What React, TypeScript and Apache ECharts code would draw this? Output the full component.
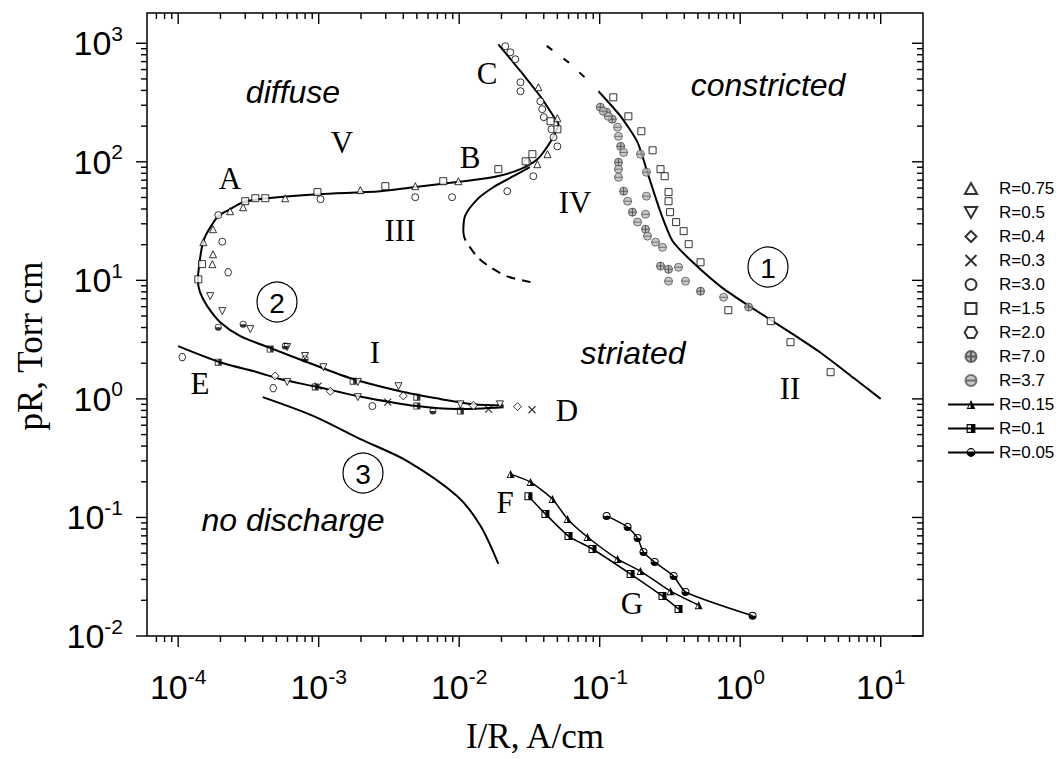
import React, { useEffect, useRef } from 'react';
import * as echarts from 'echarts';

// ---------- axis ranges & ticks ----------
const X_MIN = 6e-5;
const X_MAX = 20;
const Y_MIN = 0.01;
const Y_MAX = 1800;
const xMajorTicks = [1e-4, 1e-3, 1e-2, 1e-1, 1, 10];
const yMajorTicks = [1e-2, 1e-1, 1, 10, 100, 1000];
const minorMultipliers = [2, 3, 4, 5, 6, 7, 8, 9];
const xDecades = [1e-5, 1e-4, 1e-3, 1e-2, 1e-1, 1, 10];
const yDecades = [1e-2, 1e-1, 1, 10, 100, 1000];

// ---------- curves ----------
const mainCurve = [
  [0.019, 980], [0.0273, 581], [0.0378, 357], [0.0469, 242], [0.0509, 207], [0.0469, 164],
  [0.0425, 135], [0.036, 105], [0.0273, 86.7], [0.0187, 75.6], [0.0107, 68.6], [0.00472, 61],
  [0.00275, 56.5], [9.8e-4, 53.3], [4.3e-4, 49.3], [2.9e-4, 45.6], [2.34e-4, 39.8],
  [1.93e-4, 34.8], [1.75e-4, 29.8], [1.56e-4, 23.6], [1.48e-4, 19.4], [1.43e-4, 15.1],
  [1.39e-4, 11.5], [1.38e-4, 10.2], [1.43e-4, 7.95], [1.61e-4, 6.06], [1.99e-4, 4.44],
  [2.77e-4, 3.39], [4.75e-4, 2.63], [8.3e-4, 2.04], [1.76e-3, 1.47], [3.8e-3, 1.16],
  [7.3e-3, 1.0], [0.0126, 0.9], [0.0207, 0.88],
];
const lowerBranch = [
  [1e-4, 2.79], [1.99e-4, 2.04], [3.66e-4, 1.68], [5.3e-4, 1.47], [9.8e-4, 1.26],
  [1.88e-3, 1.06], [5.0e-3, 0.87], [9.7e-3, 0.82], [0.0207, 0.85],
];
const curveIII = [[0.0107, 25.5], [0.011, 34.8], [0.0135, 48.4], [0.0175, 61], [0.0243, 75.6], [0.0318, 90]];
const curveIIIdash = [[0.0107, 25.5], [0.011, 22.2], [0.0135, 15.7], [0.0167, 12.9], [0.022, 10.8], [0.0322, 9.66]];
const curveIVdash = [[0.042, 950], [0.06, 690], [0.079, 510]];
const curve1 = [
  [0.098, 394], [0.141, 242], [0.186, 146], [0.223, 75.6], [0.271, 37.6], [0.33, 21.5],
  [0.466, 14], [0.75, 8.6], [1.19, 5.95], [2.18, 3.75], [3.74, 2.45], [6.43, 1.5], [10, 1.0],
];
const curve3 = [
  [4.0e-4, 1.035], [9.2e-4, 0.716], [1.98e-3, 0.458], [4.27e-3, 0.299], [9.7e-3, 0.151],
  [0.0142, 0.0846], [0.019, 0.0405],
];

// ---------- line+symbol series ----------
const r015 = [
  [0.0232, 0.232], [0.0322, 0.199], [0.0461, 0.143], [0.059, 0.097], [0.0818, 0.0684],
  [0.134, 0.0446], [0.195, 0.0353], [0.319, 0.0239], [0.506, 0.0182],
];
const r01 = [
  [0.0311, 0.151], [0.0411, 0.107], [0.06, 0.0697], [0.0889, 0.0542], [0.166, 0.0333],
  [0.28, 0.0217], [0.364, 0.0169],
];
const r005 = [
  [0.112, 0.103], [0.158, 0.083], [0.186, 0.067], [0.205, 0.051], [0.246, 0.042],
  [0.336, 0.032], [0.408, 0.0235], [1.225, 0.0148],
];
const r01Extra = [[4.52e-4, 2.63], [1.76e-3, 1.41], [5.0e-3, 1.035], [5.0e-3, 0.87], [0.0102, 0.79], [1.93e-4, 2.04], [9.46e-4, 1.26]];
const r005Extra = [[1.93e-4, 4.03], [2.9e-4, 4.27], [5.78e-4, 2.79], [8.0e-4, 2.17], [6.5e-3, 0.79]];

// ---------- scatter series ----------
const r075 = [
  [1.77e-4, 27], [1.51e-4, 21], [2.34e-4, 38.3], [2.9e-4, 41.4], [5.78e-4, 49.3], [1.98e-3, 57.7],
  [4.87e-3, 62.3], [9.87e-3, 68.6], [0.0366, 426], [0.05, 233], [0.0425, 116], [0.036, 95.5],
  [1.77e-4, 16.6], [1.75e-4, 13.7],
];
const r05 = [
  [1.69e-4, 7.36], [2.06e-4, 5.5], [3.26e-4, 3.88], [5.97e-4, 2.74], [8.0e-4, 2.3], [1.08e-3, 1.85],
  [1.9e-3, 1.39], [3.7e-3, 1.28], [0.0195, 0.9], [5.97e-4, 1.39], [1.9e-3, 1.035], [0.0102, 0.9],
];
const r04 = [[4.9e-4, 1.56], [1.21e-3, 1.16], [4.0e-3, 1.06], [0.0126, 0.88], [0.026, 0.86]];
const r03 = [[9.9e-4, 1.28], [3.1e-3, 0.94], [0.0162, 0.82], [0.033, 0.81]];
const r30 = [
  [1.93e-4, 35.5], [2.06e-4, 21.2], [1.03e-3, 48.4], [4.87e-3, 50.3], [8.9e-3, 50.3], [0.022, 56.5],
  [0.0337, 75.6], [0.0213, 944], [0.0231, 839], [0.0251, 733], [0.0273, 469], [0.0273, 394],
  [0.0378, 324], [0.039, 278], [0.04, 238], [0.0454, 188], [0.0469, 161], [0.05, 135], [0.0306, 99],
  [2.41e-3, 0.87],
];
const r15 = [
  [3.0e-4, 46.5], [3.54e-4, 49.3], [4.17e-4, 49.3], [9.8e-4, 55.5], [2.98e-3, 62.3], [7.7e-3, 68.6],
  [0.019, 86.7], [0.0297, 101], [0.0332, 116], [0.05, 188], [0.0447, 220], [1.39e-4, 10.2],
  [1.48e-4, 13.7], [0.125, 350], [0.16, 242], [0.198, 181], [0.238, 125], [0.271, 86.7],
  [0.29, 75.6], [0.309, 55.5], [0.309, 46.5], [0.317, 37.6], [0.35, 31], [0.396, 26], [0.43, 20.2],
  [0.522, 14.2], [0.823, 5.6], [1.65, 4.53], [2.28, 3.01], [4.4, 1.68],
];
const r20 = [[1.07e-4, 2.25], [2.27e-4, 11.7], [4.75e-4, 1.23]];
const r70 = [
  [0.101, 289], [0.112, 262], [0.123, 229], [0.141, 135], [0.136, 99], [0.148, 56.5], [0.171, 37.6],
  [0.212, 27], [0.271, 13.2], [0.309, 12.4], [0.522, 8.1], [1.148, 5.95],
];
const r37 = [
  [0.106, 267], [0.115, 242], [0.134, 196], [0.136, 164], [0.148, 120], [0.136, 86.7], [0.136, 74],
  [0.158, 46.5], [0.186, 31], [0.195, 116], [0.215, 81.7], [0.215, 51.3], [0.212, 36.1],
  [0.219, 23.6], [0.25, 21], [0.28, 19], [0.309, 9.85], [0.364, 12.9], [0.408, 9.85], [0.762, 7.2],
];

const legendNames = [
  'R=0.75', 'R=0.5', 'R=0.4', 'R=0.3', 'R=3.0', 'R=1.5', 'R=2.0', 'R=7.0', 'R=3.7',
  'R=0.15', 'R=0.1', 'R=0.05',
];
const boldLegend = ['R=0.75', 'R=0.5', 'R=0.4', 'R=0.3', 'R=3.0', 'R=1.5', 'R=2.0'];

// ---------- symbols ----------
const SYM_UP = 'path://M5,0L10,9L0,9Z';
const SYM_DOWN = 'path://M0,0L10,0L5,9Z';
const SYM_DIAMOND = 'path://M5,0L10,5L5,10L0,5Z';
const SYM_SQUARE = 'path://M0,0L10,0L10,10L0,10Z';
const SYM_CIRCLE = 'path://M0,5A5,5 0 1,1 10,5A5,5 0 1,1 0,5Z';
const SYM_CROSS = 'path://M0,0L10,10M10,0L0,10';
const SYM_HEX = 'path://M2.5,0L7.5,0L10,4.33L7.5,8.66L2.5,8.66L0,4.33Z';
const SYM_CPLUS = 'path://M0,5A5,5 0 1,1 10,5A5,5 0 1,1 0,5Z M0,5L10,5 M5,0L5,10';
const SYM_CMINUS = 'path://M0,5A5,5 0 1,1 10,5A5,5 0 1,1 0,5Z M0,5L10,5';
const SYM_HALF_TRI = 'path://M5,0L10,10L0,10Z M4.6,2.6L1.7,8.8L4.6,8.8Z';
const SYM_HALF_SQ = 'path://M0,0L10,0L10,10L0,10Z M1.3,1.3L1.3,8.7L5,8.7L5,1.3Z';
const SYM_HALF_CIRC = 'path://M0,5A5,5 0 1,1 10,5A5,5 0 1,1 0,5Z M1.2,5L8.8,5A3.8,3.8 0 0,0 1.2,5Z';

const SERIF = '"Liberation Serif", "Times New Roman", serif';
const SANS = '"Liberation Sans", Arial, sans-serif';

function minorList(decades: number[], lo: number, hi: number) {
  const out: number[] = [];
  decades.forEach((d) => minorMultipliers.forEach((m) => {
    const v = m * d;
    if (v > lo * 1.001 && v < hi * 0.999) out.push(v);
  }));
  return out;
}

function powLabel(v: number) {
  const l = Math.log10(v);
  const e = Math.round(l);
  if (Math.abs(l - e) > 1e-6) return '';
  return '{b|10}{s|' + e + '}';
}

const hollow = { color: '#fff', borderColor: '#000', borderWidth: 1 };

export default function App() {
  const ref = useRef<HTMLDivElement>(null);
  useEffect(() => {
    document.body.style.margin = '0';
    if (!ref.current) return;
    const chart = echarts.init(ref.current, undefined, { renderer: 'svg' });

    const xTicks = [
      ...xMajorTicks.map((v) => [v, Y_MIN, 11]),
      ...minorList(xDecades, X_MIN, X_MAX).map((v) => [v, Y_MIN, 6]),
    ];
    const yTicks = [
      ...yMajorTicks.map((v) => [X_MIN, v, 11]),
      ...minorList(yDecades, Y_MIN, Y_MAX).map((v) => [X_MIN, v, 6]),
    ];
    const tickStyle = { stroke: '#000', lineWidth: 1.4 };

    const curve = (name: string, data: number[][], extra: any = {}) => ({
      type: 'line', name, data, symbol: 'none', showSymbol: false, smooth: 0.3,
      lineStyle: { color: '#000', width: 2 }, silent: true, z: 2, ...extra,
    });
    const scat = (name: string, data: number[][], symbol: string, itemStyle: any, size = 7) => ({
      type: 'scatter', name, data, symbol, symbolSize: size, itemStyle, silent: true, z: 3,
    });
    const symLine = (name: string, data: number[][], symbol: string) => ({
      type: 'line', name, data, symbol, symbolSize: 8, showSymbol: true, smooth: 0.2,
      lineStyle: { color: '#000', width: 1.5 }, itemStyle: { color: '#000', borderWidth: 0 },
      silent: true, z: 4,
    });

    const rich = {
      b: { fontSize: 34, fontFamily: SANS, color: '#000' },
      s: { fontSize: 21, fontFamily: SANS, color: '#000', padding: [0, 0, 20, 0] },
    };

    const txt = (text: string, x: number, y: number, font: string, extra: any = {}) => ({
      type: 'text', x, y, silent: true, ...extra,
      style: { text, font, fill: '#000', align: 'center', verticalAlign: 'middle' },
    });
    const ital = (t: string, x: number, y: number) => txt(t, x, y, 'italic 32px ' + SANS);
    const rom = (t: string, x: number, y: number) => txt(t, x, y, '31px ' + SERIF);
    const circ = (d: string, x: number, y: number) => ({
      type: 'group', silent: true, children: [
        { type: 'circle', shape: { cx: x, cy: y, r: 20 }, style: { fill: 'none', stroke: '#000', lineWidth: 1.2 } },
        txt(d, x, y + 1, '28px ' + SANS),
      ],
    });

    chart.setOption({
      animation: false,
      backgroundColor: '#fff',
      grid: { left: 147, right: 138, top: 13, bottom: 122, show: true, borderColor: '#000', borderWidth: 1.5, backgroundColor: 'transparent' },
      xAxis: {
        type: 'log', logBase: 10, min: X_MIN, max: X_MAX,
        name: 'I/R, A/cm', nameLocation: 'middle', nameGap: 83,
        nameTextStyle: { fontFamily: SERIF, fontSize: 35, color: '#000' },
        axisLine: { show: false }, axisTick: { show: false }, splitLine: { show: false }, minorTick: { show: false },
        axisLabel: { margin: 30, formatter: powLabel, rich, color: '#000', showMinLabel: false, showMaxLabel: false },
      },
      yAxis: {
        type: 'log', logBase: 10, min: Y_MIN, max: Y_MAX,
        axisLine: { show: false }, axisTick: { show: false }, splitLine: { show: false }, minorTick: { show: false },
        axisLabel: { margin: 24, formatter: powLabel, rich, color: '#000', showMaxLabel: false },
      },
      legend: {
        orient: 'vertical', left: 942, top: 175, itemWidth: 46, itemHeight: 11, itemGap: 7,
        selectedMode: false,
        data: legendNames.map((n) => (boldLegend.includes(n)
          ? { name: n, itemStyle: { borderWidth: 2, borderColor: '#000' } }
          : { name: n })),
        textStyle: { fontSize: 17, lineHeight: 17, fontFamily: SANS, color: '#000' },
      },
      graphic: [
        txt('pR, Torr cm', 30, 346, '35px ' + SERIF, { rotation: Math.PI / 2 }),
        ital('diffuse', 293, 92), ital('constricted', 768, 85), ital('striated', 633, 353), ital('no discharge', 293, 520),
        rom('A', 230, 178), rom('V', 342, 142), rom('B', 470, 157), rom('C', 487, 73), rom('III', 400, 230),
        rom('IV', 575, 202), rom('I', 375, 352), rom('II', 790, 388), rom('E', 200, 383), rom('D', 567, 410),
        rom('F', 505, 502), rom('G', 632, 603),
        circ('1', 768, 267), circ('2', 277, 302), circ('3', 363, 473),
      ],
      series: [
        {
          type: 'custom', name: 'xticks', data: xTicks, clip: false, silent: true, z: 1,
          encode: { x: 0, y: 1 },
          renderItem: (_p: any, api: any) => {
            const v = api.value(0); const len = api.value(2);
            const b = api.coord([v, Y_MIN]); const t = api.coord([v, Y_MAX]);
            return { type: 'group', children: [
              { type: 'line', shape: { x1: b[0], y1: b[1], x2: b[0], y2: b[1] + len }, style: tickStyle },
              { type: 'line', shape: { x1: t[0], y1: t[1], x2: t[0], y2: t[1] + len }, style: tickStyle },
            ] };
          },
        },
        {
          type: 'custom', name: 'yticks', data: yTicks, clip: false, silent: true, z: 1,
          encode: { x: 0, y: 1 },
          renderItem: (_p: any, api: any) => {
            const v = api.value(1); const len = api.value(2);
            const l = api.coord([X_MIN, v]); const r = api.coord([X_MAX, v]);
            return { type: 'group', children: [
              { type: 'line', shape: { x1: l[0], y1: l[1], x2: l[0] - len, y2: l[1] }, style: tickStyle },
              { type: 'line', shape: { x1: r[0], y1: r[1], x2: r[0] - len, y2: r[1] }, style: tickStyle },
            ] };
          },
        },
        curve('main', mainCurve),
        curve('lower', lowerBranch),
        curve('III', curveIII),
        curve('IIIdash', curveIIIdash, { lineStyle: { color: '#000', width: 2, type: [9, 7] } }),
        curve('IVdash', curveIVdash, { smooth: 0, lineStyle: { color: '#000', width: 2, type: [7, 14] } }),
        curve('c1', curve1, { smooth: 0.2 }),
        curve('c3', curve3),
        symLine('R=0.15', r015, SYM_HALF_TRI),
        symLine('R=0.1', r01, SYM_HALF_SQ),
        symLine('R=0.05', r005, SYM_HALF_CIRC),
        scat('R=0.75', r075, SYM_UP, hollow),
        scat('R=0.5', r05, SYM_DOWN, hollow),
        scat('R=0.4', r04, SYM_DIAMOND, hollow, 8),
        scat('R=0.3', r03, SYM_CROSS, { color: 'transparent', borderColor: '#000', borderWidth: 1.2 }),
        scat('R=3.0', r30, SYM_CIRCLE, hollow),
        scat('R=1.5', r15, SYM_SQUARE, hollow),
        scat('R=2.0', r20, SYM_HEX, hollow),
        scat('R=7.0', r70, SYM_CPLUS, { color: '#aaa', borderColor: '#444', borderWidth: 1 }, 8),
        scat('R=3.7', r37, SYM_CMINUS, { color: '#bbb', borderColor: '#555', borderWidth: 1 }, 8),
        scat('R=0.1', r01Extra, SYM_HALF_SQ, { color: '#000', borderWidth: 0 }),
        scat('R=0.05', r005Extra, SYM_HALF_CIRC, { color: '#000', borderWidth: 0 }),
      ],
    });
    return () => chart.dispose();
  }, []);
  return <div ref={ref} style={{ width: 1061, height: 759 }} />;
}
